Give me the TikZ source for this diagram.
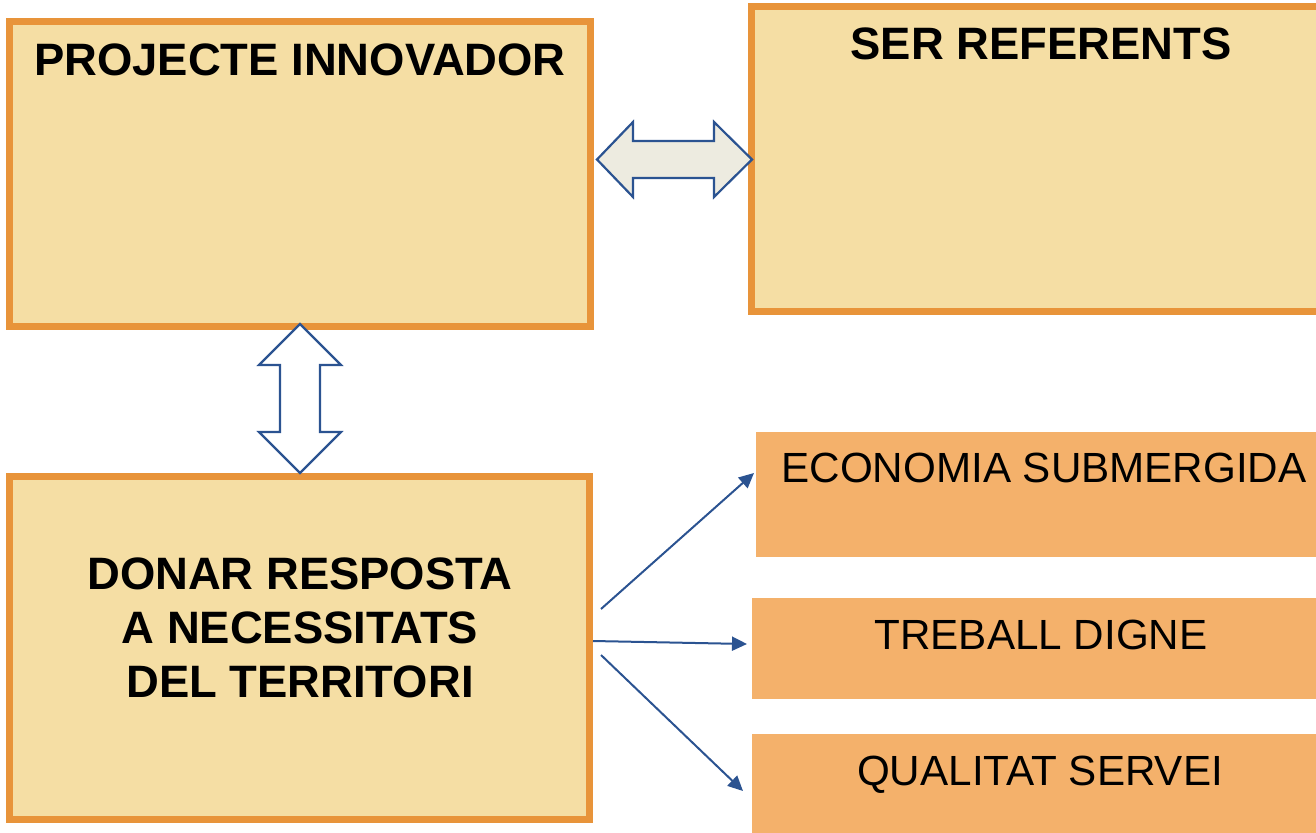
\documentclass[tikz,border=0pt]{standalone}
\usepackage{fontspec}
\setmainfont{Liberation Sans}
\usetikzlibrary{arrows.meta,calc}
\definecolor{boxfill}{HTML}{F5DEA4}
\definecolor{boxline}{HTML}{E8943A}
\definecolor{orfill}{HTML}{F4B16B}
\definecolor{arrblue}{HTML}{2B5391}
\definecolor{arrfill}{HTML}{EDEBE0}
\tikzset{
  bigbox/.style={draw=boxline, fill=boxfill, line width=7pt, inner sep=0pt, minimum width=#1},
  orbox/.style={fill=orfill, draw=none, inner sep=0pt},
  headtxt/.style={font=\fontsize{45.4}{52}\selectfont\bfseries, inner sep=0pt, anchor=base},
  regtxt/.style={font=\fontsize{42.2}{50}\selectfont, inner sep=0pt, anchor=base},
  blockarrow/.style={draw=arrblue, line width=2.2pt, line join=miter},
  thinarrow/.style={draw=arrblue, line width=2pt, -{Triangle[length=15pt,width=14pt]}}
}
\begin{document}
\begin{tikzpicture}[x=1pt,y=-1pt]
\useasboundingbox (0,0) rectangle (1316,832);
\begin{scope}
\clip (0,0) rectangle (1316,832);
% big boxes (centre-line coordinates)
\node[bigbox=581pt, minimum height=305pt] (proj) at (300,174) {};
\node[bigbox=600pt, minimum height=304pt] (ser) at (1051,159) {};
\node[bigbox=580pt, minimum height=343pt] (donar) at (299.5,648) {};
% orange boxes
\node[orbox, minimum width=580pt, minimum height=125pt] (eco) at (1046,494.5) {};
\node[orbox, minimum width=584pt, minimum height=101pt] (treb) at (1044,648.5) {};
\node[orbox, minimum width=584pt, minimum height=110pt] (qual) at (1044,789) {};
% texts
\node[headtxt] (tproj) at (300,76) {PROJECTE INNOVADOR};
\node[headtxt] (tser) at (1041,60) {SER REFERENTS};
\node[headtxt] (td1) at (300,589) {DONAR RESPOSTA};
\node[headtxt] (td2) at (300,643) {A NECESSITATS};
\node[headtxt] (td3) at (300,697) {DEL TERRITORI};
\node[regtxt] (teco) at (1044,482) {ECONOMIA SUBMERGIDA};
\node[regtxt] (ttreb) at (1041,649) {TREBALL DIGNE};
\node[regtxt] (tqual) at (1040,785) {QUALITAT SERVEI};
% horizontal block double arrow
\coordinate (hl) at (597,159.5);
\coordinate (hr) at (752,159.5);
\path[blockarrow, fill=arrfill]
  (hl) -- ($(hl)+(36,-37.5)$) -- ($(hl)+(36,-18.5)$) -- ($(hr)+(-38,-18.5)$)
  -- ($(hr)+(-38,-37.5)$) -- (hr) -- ($(hr)+(-38,37.5)$) -- ($(hr)+(-38,18.5)$)
  -- ($(hl)+(36,18.5)$) -- ($(hl)+(36,37.5)$) -- cycle;
% vertical block double arrow
\coordinate (vt) at (300,324);
\coordinate (vb) at (300,473);
\path[blockarrow, fill=white]
  (vt) -- ($(vt)+(41,41)$) -- ($(vt)+(20,41)$) -- ($(vb)+(20,-41)$)
  -- ($(vb)+(41,-41)$) -- (vb) -- ($(vb)+(-41,-41)$) -- ($(vb)+(-20,-41)$)
  -- ($(vt)+(-20,41)$) -- ($(vt)+(-41,41)$) -- cycle;
% thin arrows
\coordinate (a1s) at (601,609);
\coordinate (a1e) at (754,473);
\coordinate (a2s) at (593,641);
\coordinate (a2e) at (747,644);
\coordinate (a3s) at (601,655);
\coordinate (a3e) at (743,791);
\draw[thinarrow] (a1s) -- (a1e);
\draw[thinarrow] (a2s) -- (a2e);
\draw[thinarrow] (a3s) -- (a3e);
\end{scope}
\end{tikzpicture}
\end{document}
